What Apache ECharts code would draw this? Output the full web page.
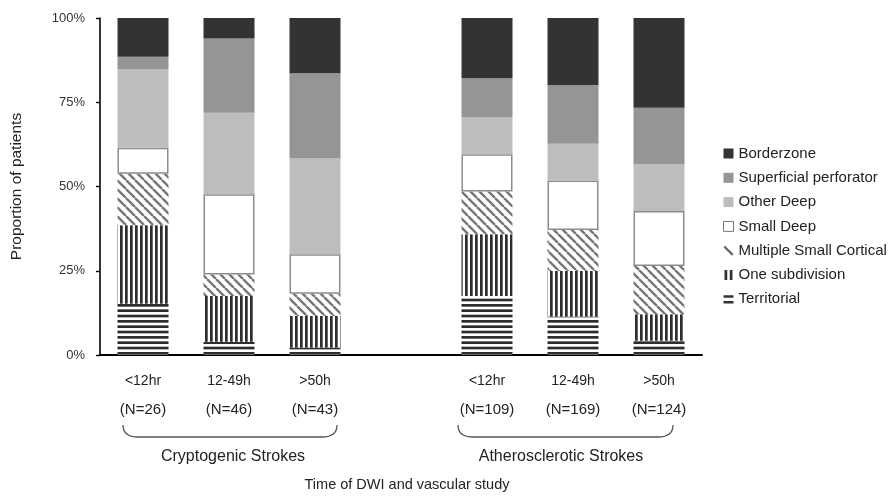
<!DOCTYPE html>
<html><head><meta charset="utf-8">
<script src="https://cdn.jsdelivr.net/npm/echarts@6/dist/echarts.min.js"></script>
<style>html,body{margin:0;padding:0;background:#fff}#c{width:895px;height:499px}</style>
</head><body><div id="c"></div>
<script>
// ---- data ----
const categories = ['<12hr', '12-49h', '>50h', '', '<12hr', '12-49h', '>50h'];
const sampleSizes = ['(N=26)', '(N=46)', '(N=43)', '', '(N=109)', '(N=169)', '(N=124)'];
const groupLabels = ['Cryptogenic Strokes', 'Atherosclerotic Strokes'];
const groupRanges = [[0, 2], [4, 6]];
const yTickValues = [0, 25, 50, 75, 100];
const axisTitle = 'Time of DWI and vascular study';
const yTitle = 'Proportion of patients';

const territorial   = [15.2, 3.9, 2.2, '-', 17.5, 11.4, 4.2];
const oneSubdiv     = [23.3, 13.6, 9.4, '-', 18.3, 13.5, 7.9];
const multiSmallCor = [15.3, 6.4, 6.6, '-', 12.7, 12.2, 14.3];
const smallDeep     = [7.7, 23.8, 11.7, '-', 11.1, 14.7, 16.3];
const otherDeep     = [23.3, 24.2, 28.4, '-', 11.0, 10.9, 13.9];
const superficial   = [3.7, 22.0, 25.3, '-', 11.5, 17.4, 16.8];
const borderzone    = [11.5, 6.1, 16.4, '-', 17.9, 19.9, 26.6];

// ---- patterns ----
function mk(w, h, draw) {
  const c = document.createElement('canvas');
  c.width = w; c.height = h;
  const g = c.getContext('2d');
  g.fillStyle = '#fff'; g.fillRect(0, 0, w, h);
  draw(g);
  return { image: c, repeat: 'repeat' };
}
const hStripes = mk(4, 16, g => {
  g.fillStyle = '#2e2e2e';
  [0, 16 / 3, 32 / 3].forEach(y => g.fillRect(0, y, 4, 2.7));
});
const vStripes = mk(5, 4, g => {
  g.fillStyle = '#2e2e2e';
  g.fillRect(0, 0, 2.7, 4);
});
const dStripes = mk(9, 9, g => {
  g.strokeStyle = '#777777'; g.lineWidth = 2.4;
  g.beginPath();
  [-9, 0, 9].forEach(o => { g.moveTo(o, 0); g.lineTo(o + 9, 9); });
  g.stroke();
});

const font = 'Liberation Sans, Arial, sans-serif';

const seriesDefs = [
  { name: 'Territorial', data: territorial, color: hStripes },
  { name: 'One subdivision', data: oneSubdiv, color: vStripes },
  { name: 'Multiple Small Cortical', data: multiSmallCor, color: dStripes },
  { name: 'Small Deep', data: smallDeep, color: '#ffffff', border: true },
  { name: 'Other Deep', data: otherDeep, color: '#bdbdbd' },
  { name: 'Superficial perforator', data: superficial, color: '#959595' },
  { name: 'Borderzone', data: borderzone, color: '#333333' }
];

const chart = echarts.init(document.getElementById('c'), null, { renderer: 'canvas' });

const legendData = [
  { name: 'Borderzone', icon: 'rect', itemStyle: { color: '#333333' } },
  { name: 'Superficial perforator', icon: 'rect', itemStyle: { color: '#959595' } },
  { name: 'Other Deep', icon: 'rect', itemStyle: { color: '#bdbdbd' } },
  { name: 'Small Deep', icon: 'rect', itemStyle: { color: '#ffffff', borderColor: '#777', borderWidth: 1 } },
  { name: 'Multiple Small Cortical', icon: 'path://M0,1.6L1.6,0L10,8.4L8.4,10z', itemStyle: { color: '#666666' } },
  { name: 'One subdivision', icon: 'path://M0,0h2.2v8h-2.2z M4.2,0h2.2v8h-2.2z', itemStyle: { color: '#333333' } },
  { name: 'Territorial', icon: 'path://M0,0h9v2.3h-9z M0,5.2h9v2.3h-9z', itemStyle: { color: '#333333' } }
];

chart.setOption({
  animation: false,
  backgroundColor: '#fff',
  textStyle: { fontFamily: font },
  grid: { left: 100, right: 193, top: 18, bottom: 144, containLabel: false },
  legend: {
    orient: 'vertical', left: 718, top: 141,
    itemWidth: 10, itemHeight: 10, itemGap: 9.3,
    data: legendData,
    textStyle: { fontFamily: font, fontSize: 15, color: '#222' },
    selectedMode: false
  },
  xAxis: {
    type: 'category', data: categories,
    axisTick: { show: false },
    axisLine: { lineStyle: { color: '#000', width: 2 } },
    axisLabel: {
      interval: 0, margin: 16,
      formatter: (v, i) => v ? '{a|' + v + '}\n{b|' + sampleSizes[i] + '}' : '',
      rich: {
        a: { fontFamily: font, fontSize: 14, color: '#222', lineHeight: 20 },
        b: { fontFamily: font, fontSize: 15, color: '#222', lineHeight: 37 }
      }
    }
  },
  yAxis: {
    type: 'value', min: 0, max: 100, interval: 25,
    name: yTitle, nameLocation: 'middle', nameGap: 75, nameRotate: 90,
    nameTextStyle: { fontFamily: font, fontSize: 15.5, color: '#222' },
    splitLine: { show: false },
    axisLine: { show: true, lineStyle: { color: '#000', width: 1.6 } },
    axisTick: { show: true, length: 4, lineStyle: { color: '#000', width: 1.4 } },
    axisLabel: { formatter: v => yTickValues.includes(v) ? v + '%' : '', fontFamily: font, fontSize: 13, color: '#333', margin: 15 }
  },
  series: seriesDefs.map(s => ({
    name: s.name, type: 'bar', stack: 'total', barWidth: 51,
    data: s.data,
    itemStyle: s.border ? { color: s.color, borderColor: '#8c8c8c', borderWidth: 1.5 } : { color: s.color },
    emphasis: { disabled: true }
  }))
});

// ---- braces and group labels, placed from the category axis ----
const px = i => chart.convertToPixel({ xAxisIndex: 0 }, i);
const braceTop = 425, braceBot = 437, r = 15;
const ext = [[-20, 22], [-29, 14]];
const textShift = [4, -12];
const graphics = [];
groupRanges.forEach((g, k) => {
  const x1 = px(g[0]) + ext[k][0], x2 = px(g[1]) + ext[k][1];
  const st = { stroke: '#555', lineWidth: 1.3, fill: null };
  graphics.push({ type: 'bezierCurve', shape: { x1: x1, y1: braceTop, cpx1: x1, cpy1: braceBot, x2: x1 + r, y2: braceBot }, style: st, silent: true });
  graphics.push({ type: 'line', shape: { x1: x1 + r, y1: braceBot, x2: x2 - r, y2: braceBot }, style: st, silent: true });
  graphics.push({ type: 'bezierCurve', shape: { x1: x2 - r, y1: braceBot, cpx1: x2, cpy1: braceBot, x2: x2, y2: braceTop }, style: st, silent: true });
  const cx = (px(g[0]) + px(g[1])) / 2 + textShift[k];
  graphics.push({ type: 'text', x: cx, y: 457, silent: true,
    style: { text: groupLabels[k], fontFamily: font, fontSize: 16, fill: '#222', align: 'center', verticalAlign: 'middle' } });
});
const mid = (px(0) + px(6)) / 2;
graphics.push({ type: 'text', x: mid + 6, y: 485, silent: true,
  style: { text: axisTitle, fontFamily: font, fontSize: 14.5, fill: '#222', align: 'center', verticalAlign: 'middle' } });
chart.setOption({ graphic: graphics });
</script>
</body></html>
